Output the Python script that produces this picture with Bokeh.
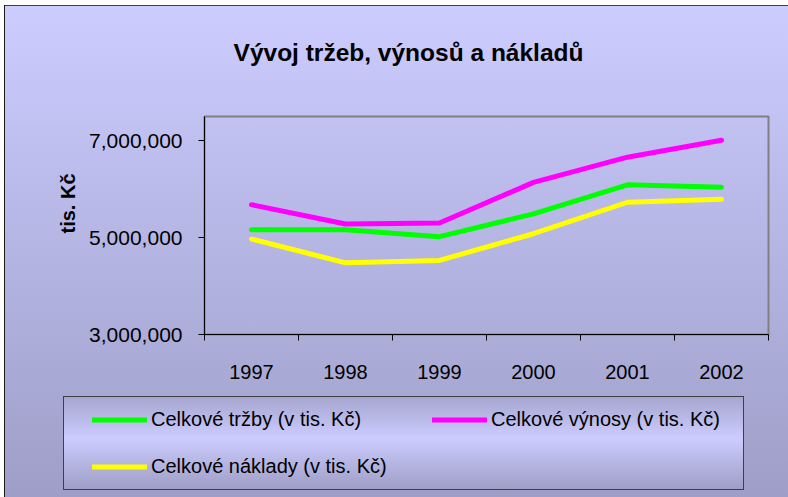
import math
from bokeh.plotting import figure
from bokeh.layouts import column, row
from bokeh.models import (Range1d, FixedTicker, NumeralTickFormatter, Label,
                          Legend, LegendItem)
from bokeh.embed import file_html
from bokeh.resources import INLINE

# ---- data ----
years = [1997, 1998, 1999, 2000, 2001, 2002]
trzby = [5160000, 5160000, 5020000, 5490000, 6090000, 6040000]
vynosy = [5680000, 5280000, 5300000, 6140000, 6660000, 7010000]
naklady = [4970000, 4480000, 4530000, 5080000, 5730000, 5790000]
y_ticks = [3000000, 5000000, 7000000]

title_text = "Vývoj tržeb, výnosů a nákladů"
y_label = "tis. Kč"
names = ["Celkové tržby (v tis. Kč)", "Celkové výnosy (v tis. Kč)", "Celkové náklady (v tis. Kč)"]
colors = ["#00FF00", "#FF00FF", "#FFFF00"]
series = [trzby, vynosy, naklady]

FONT = "Liberation Sans"

bg = ", ".join([
    "linear-gradient(#1a1a1a, #1a1a1a) 4px 5px / 1px 492px no-repeat",
    "linear-gradient(#3c3c50, #3c3c50) 4px 5px / 784px 1px no-repeat",
    "linear-gradient(#A6A6D0 0%, #CCCCFF 45%, #9E9EC6 100%) 64px 397px / 679px 92px no-repeat",
    "linear-gradient(#404040, #404040) 63px 396px / 681px 94px no-repeat",
    "linear-gradient(#CCCCFF, #9E9EC8) 4px 5px / 784px 492px no-repeat",
    "linear-gradient(white, white)",
])


def blank(w, h, **kw):
    f = figure(width=w, height=h, output_backend="svg", toolbar_location=None,
               x_axis_location=None, y_axis_location=None,
               min_border=0, outline_line_color=None, **kw)
    f.border_fill_color = None
    f.background_fill_color = None
    f.grid.visible = False
    return f


# ---- header with title ----
head = blank(788, 115, x_range=Range1d(0, 1), y_range=Range1d(0, 1))
head.add_layout(Label(x=408, y=63.3, x_units="screen", y_units="screen", text=title_text,
                      text_font=FONT, text_font_size="24.5px", text_font_style="bold",
                      text_align="center", text_baseline="alphabetic", text_color="black"))

# ---- y axis title (its frame is aligned with the main plot frame: 116..334) ----
ylab = blank(80, 275, x_range=Range1d(0, 1), y_range=Range1d(0, 1))
ylab.add_layout(Label(x=67.5, y=131, x_units="screen", y_units="screen", text=y_label,
                      angle=math.pi / 2,
                      text_font=FONT, text_font_size="20px", text_font_style="bold",
                      text_align="center", text_baseline="middle", text_color="black"))

# ---- main plot ----
p = figure(width=708, height=275, output_backend="svg", toolbar_location=None,
           x_range=Range1d(years[0] - 0.5, years[-1] + 0.5),
           y_range=Range1d(3000000, 7500000),
           min_border_left=124, min_border_right=20,
           min_border_top=1, min_border_bottom=56)
p.border_fill_color = None
p.background_fill_color = None
p.outline_line_color = "#808080"
p.outline_line_width = 2
p.grid.visible = False

xa = p.xaxis[0]
xa.ticker = FixedTicker(ticks=years, minor_ticks=[y + 0.5 for y in [years[0] - 1] + years])
xa.major_tick_out = 0
xa.major_tick_in = 0
xa.minor_tick_out = 6
xa.minor_tick_in = 0
xa.minor_tick_line_color = "black"
xa.axis_line_color = "black"
xa.major_label_text_font = FONT
xa.major_label_text_font_size = "20px"
xa.major_label_text_color = "black"
xa.major_label_standoff = 24

ya = p.yaxis[0]
ya.ticker = FixedTicker(ticks=y_ticks, minor_ticks=[])
ya.formatter = NumeralTickFormatter(format="0,0")
ya.major_tick_out = 6
ya.major_tick_in = 0
ya.major_tick_line_color = "black"
ya.axis_line_color = "black"
ya.major_label_text_font = FONT
ya.major_label_text_font_size = "21px"
ya.major_label_text_color = "black"
ya.major_label_standoff = 16

for vals, c in zip(series, colors):
    p.line(years, vals, line_color=c, line_width=5, line_cap="round", line_join="round")

# ---- legend (its own panel; the series lie outside its view, only the keys show) ----
leg = blank(788, 107, x_range=Range1d(0, 1), y_range=Range1d(0, 1))
items = []
for n, vals, c in zip(names, series, colors):
    r = leg.line(years, vals, line_color=c, line_width=5, line_cap="round")
    items.append(LegendItem(label=n, renderers=[r]))
legend = Legend(items=items, orientation="horizontal", ncols=2,
                location=(92, 7.5),
                padding=0, margin=0, spacing=0,
                glyph_width=55, glyph_height=47, label_height=47, label_width=281,
                label_standoff=4,
                label_text_font=FONT, label_text_font_size="20px", label_text_color="black",
                background_fill_alpha=0, border_line_alpha=0)
leg.add_layout(legend, "center")

layout = column(head, row(ylab, p), leg)
layout.styles = {"background": bg}

open("out.html", "w").write(file_html(layout, INLINE))
